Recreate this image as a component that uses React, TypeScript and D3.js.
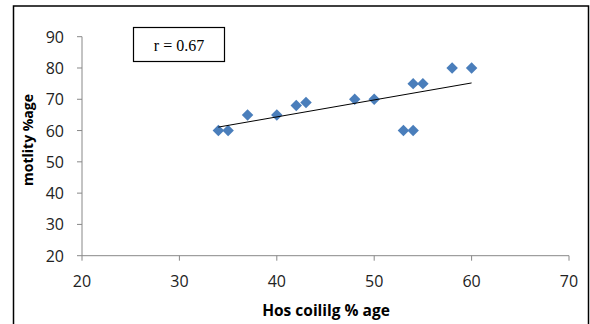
import React from "react";
import * as d3 from "d3";

const hosCoiling: number[] = [34, 35, 37, 40, 42, 43, 48, 50, 53, 54, 54, 55, 58, 60];
const motility: number[] = [60, 60, 65, 65, 68, 69, 70, 70, 60, 60, 75, 75, 80, 80];
const xTicks: number[] = [20, 30, 40, 50, 60, 70];
const yTicks: number[] = [20, 30, 40, 50, 60, 70, 80, 90];
const rLabel = "r = 0.67";
const xTitle = "Hos coililg % age";
const yTitle = "motlity %age";

const W = 590;
const H = 324;

export default function App() {
  const x = d3.scaleLinear().domain([20, 70]).range([82, 569]);
  const y = d3.scaleLinear().domain([20, 90]).range([255.7, 36.7]);

  const mx = d3.mean(hosCoiling) as number;
  const my = d3.mean(motility) as number;
  let sxy = 0, sxx = 0;
  hosCoiling.forEach((v, i) => {
    sxy += (v - mx) * (motility[i] - my);
    sxx += (v - mx) * (v - mx);
  });
  const slope = sxy / sxx;
  const icpt = my - slope * mx;
  const [x0, x1] = d3.extent(hosCoiling) as [number, number];
  const trend = d3.line<number>().x((d) => x(d)).y((d) => y(icpt + slope * d))([x0, x1]);

  const diamond = d3.symbol().type(d3.symbolSquare).size(66)();
  const axisColor = "#888888";
  const font = "'Open Sans', 'Liberation Sans', sans-serif";

  return (
    <svg width={W} height={H} style={{ position: "absolute", left: 0, top: 0, background: "#fff" }}>
      <rect x={13.5} y={6} width={575} height={330} fill="#fff" stroke="#000" strokeWidth={1.5} />
      {/* y axis */}
      <line x1={82} x2={82} y1={y(90)} y2={y(20)} stroke={axisColor} strokeWidth={1} />
      {yTicks.map((t) => (
        <g key={"y" + t}>
          <line x1={77} x2={82} y1={y(t)} y2={y(t)} stroke={axisColor} />
          <text x={64} y={y(t)} dy="0.38em" textAnchor="end" fontFamily={font} fontSize={16} fill="#222">
            {t}
          </text>
        </g>
      ))}
      {/* x axis */}
      <line x1={x(20)} x2={x(70)} y1={y(20)} y2={y(20)} stroke={axisColor} strokeWidth={1} />
      {xTicks.map((t) => (
        <g key={"x" + t}>
          <line x1={x(t)} x2={x(t)} y1={y(20)} y2={y(20) + 5} stroke={axisColor} />
          <text x={x(t)} y={287} textAnchor="middle" fontFamily={font} fontSize={16} fill="#222">
            {t}
          </text>
        </g>
      ))}
      {/* points */}
      {hosCoiling.map((v, i) => (
        <path
          key={"p" + i}
          d={diamond as string}
          transform={`translate(${x(v)},${y(motility[i])}) rotate(45)`}
          fill="#4a7ebb"
        />
      ))}
      {/* trendline */}
      <path d={trend as string} stroke="#000" strokeWidth={1} fill="none" />
      {/* r box */}
      <rect x={133.5} y={27.5} width={91} height={34} fill="#fff" stroke="#000" strokeWidth={1.2} />
      <text x={179} y={51} textAnchor="middle" fontFamily="'Liberation Serif', 'DejaVu Serif', serif" fontSize={16} fill="#000">
        {rLabel}
      </text>
      {/* titles */}
      <text x={326} y={316} textAnchor="middle" fontFamily={font} fontWeight="bold" fontSize={15.5} fill="#000">
        {xTitle}
      </text>
      <text
        transform={`translate(33,${140}) rotate(-90)`}
        textAnchor="middle"
        fontFamily={font}
        fontWeight="bold"
        fontSize={14}
        fill="#000"
      >
        {yTitle}
      </text>
    </svg>
  );
}
